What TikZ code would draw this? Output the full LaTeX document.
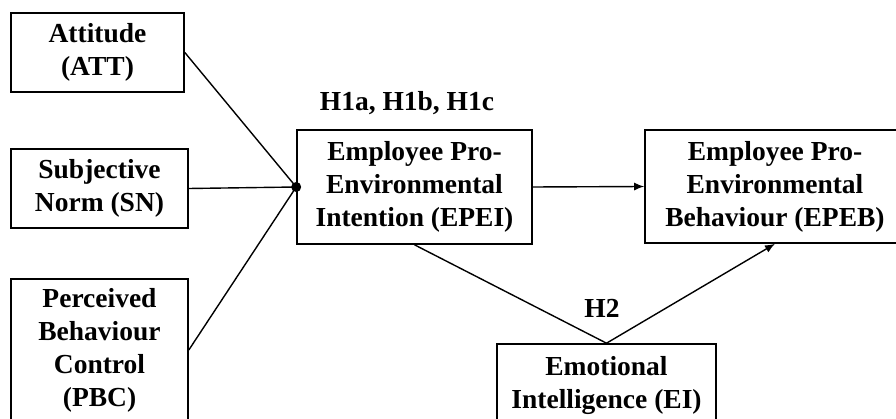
\documentclass[tikz,border=0pt]{standalone}
\usepackage{fontspec}
\setmainfont{Liberation Serif}
\usetikzlibrary{arrows.meta}
\begin{document}
\begin{tikzpicture}[x=1pt,y=-1pt,
  box/.style={draw,line width=1.6pt,align=center,inner sep=0pt,
    font=\fontsize{27.5}{33}\selectfont\bfseries},
  lbl/.style={inner sep=0pt,font=\fontsize{27.5}{33}\selectfont\bfseries},
  conn/.style={line width=1.4pt},
  arr/.style={conn,-{Latex[length=10pt,width=8pt]}}]
\useasboundingbox (0,0) rectangle (896,419);
\clip (0,0) rectangle (896,419);
\node[box,minimum width=173pt,minimum height=79pt] (att) at (97.5,52.5) {Attitude\\(ATT)};
\node[box,minimum width=177pt,minimum height=79pt] (sn) at (99.5,188.5) {Subjective\\Norm (SN)};
\node[box,minimum width=177pt,minimum height=142pt] (pbc) at (99.5,350) {Perceived\\Behaviour\\Control\\(PBC)};
\node[box,minimum width=235pt,minimum height=114pt] (epei) at (414.5,187) {Employee Pro-\\Environmental\\Intention (EPEI)};
\node[box,minimum width=260pt,minimum height=113pt] (epeb) at (775,186.5) {Employee Pro-\\Environmental\\Behaviour (EPEB)};
\node[box,minimum width=219pt,minimum height=82pt] (ei) at (606.5,385) {Emotional\\Intelligence (EI)};
\node[lbl] (h1) at (407,103) {H1a, H1b, H1c};
\node[lbl] (h2) at (602,308) {H2};
\coordinate (j) at (epei.west);
\draw[conn] (att.east) -- (j);
\draw[conn] (sn.east) -- (j);
\draw[conn] (pbc.east) -- (j);
\fill (j) circle (5pt);
\draw[arr] (epei.east) -- (epeb.west);
\draw[conn] (epei.south) -- (ei.north);
\draw[arr] (ei.north) -- (epeb.south);
\end{tikzpicture}
\end{document}
